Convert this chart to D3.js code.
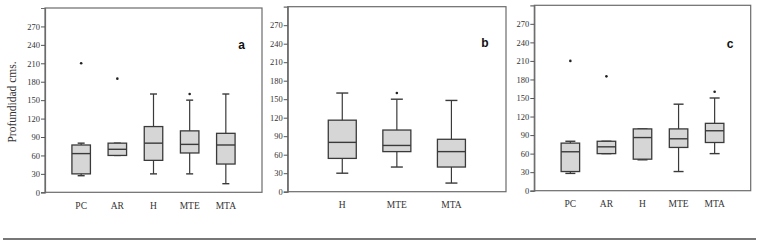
<!DOCTYPE html>
<html><head><meta charset="utf-8">
<script src="https://cdn.jsdelivr.net/npm/d3@7"></script>
<style>body{margin:0;background:#fff}svg{display:block}</style>
</head><body>
<svg id="chart" width="759" height="243"></svg>
<script>
// ---- data ----
const yTicks = [0,30,60,90,120,150,180,210,240,270];
const catsA = ["PC","AR","H","MTE","MTA"];
const loA  = [27, 60, 30, 30, 14];
const q1A  = [30, 60, 52, 64, 46];
const medA = [63, 70, 80, 78, 77];
const q3A  = [77, 80, 107, 100, 96];
const hiA  = [80, 80, 160, 150, 160];
const outA = [[210],[185],[],[160],[]];

const catsB = ["H","MTE","MTA"];
const loB  = [30, 40, 14];
const q1B  = [54, 65, 40];
const medB = [80, 75, 65];
const q3B  = [116, 100, 85];
const hiB  = [160, 150, 148];
const outB = [[],[160],[]];

const catsC = ["PC","AR","H","MTE","MTA"];
const loC  = [28, 60, 50, 31, 60];
const q1C  = [31, 60, 51, 70, 78];
const medC = [63, 71, 86, 84, 97];
const q3C  = [77, 80, 100, 100, 109];
const hiC  = [80, 80, 100, 140, 150];
const outC = [[210],[185],[],[],[160]];

const panels = [
  {letter:"a", cats:catsA, lo:loA, q1:q1A, med:medA, q3:q3A, hi:hiA, out:outA,
   x0:45, x1:262, y0:8, y1:192.3, bw:18.5, cw:7, lx:241.7, ly:49},
  {letter:"b", cats:catsB, lo:loB, q1:q1B, med:medB, q3:q3B, hi:hiB, out:outB,
   x0:287.7, x1:506, y0:6.7, y1:191.7, bw:28, cw:12, lx:485, ly:47},
  {letter:"c", cats:catsC, lo:loC, q1:q1C, med:medC, q3:q3C, hi:hiC, out:outC,
   x0:534.3, x1:750.7, y0:5.3, y1:190.7, bw:18.5, cw:10, lx:730, ly:48}
];

const svg = d3.select("#chart");
const stroke = "#3a3a3a";

panels.forEach(p => {
  const x = d3.scalePoint().domain(p.cats).range([p.x0, p.x1]).padding(1);
  const y = d3.scaleLinear().domain([0, 300]).range([p.y1, p.y0]);
  const g = svg.append("g");

  g.append("rect").attr("x", p.x0).attr("y", p.y0)
    .attr("width", p.x1 - p.x0).attr("height", p.y1 - p.y0)
    .attr("fill", "none").attr("stroke", "#6b6b6b").attr("stroke-width", 1.2);

  const ax = g.append("g").attr("transform", `translate(${p.x0},0)`)
    .call(d3.axisLeft(y).tickValues(yTicks).tickSize(4).tickPadding(1));
  ax.select(".domain").attr("stroke", "#6b6b6b").attr("stroke-width", 1.2);
  ax.selectAll(".tick line").attr("stroke", "#555");
  ax.selectAll(".tick text").attr("font-family", "Liberation Serif, serif")
    .attr("font-size", 8.5).attr("fill", "#333");

  g.selectAll(".xl").data(p.cats).enter().append("text")
    .attr("x", d => x(d)).attr("y", p.y1 + 16.5)
    .attr("text-anchor", "middle").attr("font-family", "Liberation Serif, serif")
    .attr("font-size", 9.5).attr("fill", "#333").text(d => d);

  p.cats.forEach((c, i) => {
    const cx = x(c);
    g.append("line").attr("x1", cx).attr("x2", cx)
      .attr("y1", y(p.hi[i])).attr("y2", y(p.lo[i]))
      .attr("stroke", stroke).attr("stroke-width", 1.2);
    [p.hi[i], p.lo[i]].forEach(v => {
      g.append("line").attr("x1", cx - p.cw/2).attr("x2", cx + p.cw/2)
        .attr("y1", y(v)).attr("y2", y(v))
        .attr("stroke", stroke).attr("stroke-width", 1.4);
    });
    g.append("rect").attr("x", cx - p.bw/2).attr("y", y(p.q3[i]))
      .attr("width", p.bw).attr("height", y(p.q1[i]) - y(p.q3[i]))
      .attr("fill", "#d6d6d6").attr("stroke", stroke).attr("stroke-width", 1.3);
    g.append("line").attr("x1", cx - p.bw/2).attr("x2", cx + p.bw/2)
      .attr("y1", y(p.med[i])).attr("y2", y(p.med[i]))
      .attr("stroke", stroke).attr("stroke-width", 1.4);
    p.out[i].forEach(v => {
      g.append("circle").attr("cx", cx).attr("cy", y(v)).attr("r", 1.3)
        .attr("fill", "#222");
    });
  });

  g.append("text").attr("x", p.lx).attr("y", p.ly).attr("text-anchor", "middle")
    .attr("font-family", "Liberation Sans, Arial, sans-serif").attr("font-weight", "bold")
    .attr("font-size", 12).attr("fill", "#111").text(p.letter);
});

svg.append("text").attr("transform", "translate(16,102) rotate(-90)")
  .attr("text-anchor", "middle").attr("font-family", "Liberation Serif, serif")
  .attr("font-size", 11.5).attr("fill", "#333").text("Profundidad cms.");

svg.append("line").attr("x1", 3).attr("x2", 756).attr("y1", 239).attr("y2", 239)
  .attr("stroke", "#777").attr("stroke-width", 2);
</script>
</body></html>
